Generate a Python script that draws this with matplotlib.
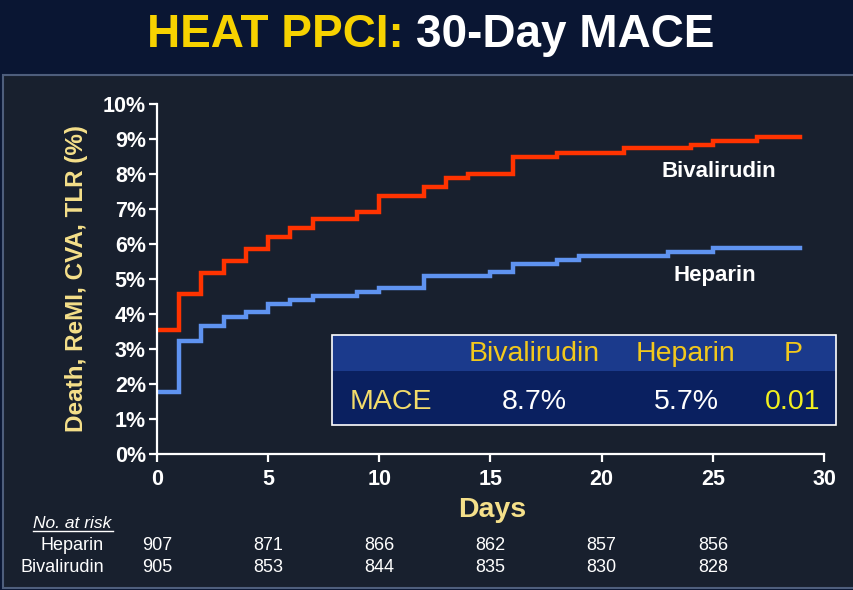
import matplotlib
matplotlib.use("Agg")
import matplotlib.pyplot as plt
from matplotlib.patches import Rectangle
from matplotlib.transforms import blended_transform_factory

plt.rcParams["font.family"] = ["Liberation Sans", "DejaVu Sans"]

# step curves (day, % MACE)
biv_days = [0, 1, 2, 3, 4, 5, 6, 7, 9, 10, 12, 13, 14, 16, 18, 21, 24, 25, 27, 28.9]
biv_pct = [3.55, 4.57, 5.17, 5.51, 5.86, 6.2, 6.46, 6.71, 6.91, 7.37, 7.63, 7.89, 8.0,
           8.49, 8.6, 8.74, 8.83, 8.94, 9.07, 9.07]
hep_days = [0, 1, 2, 3, 4, 5, 6, 7, 9, 10, 12, 15, 16, 18, 19, 23, 25, 28.9]
hep_pct = [1.78, 3.23, 3.66, 3.91, 4.06, 4.29, 4.4, 4.51, 4.63, 4.74, 5.09, 5.2, 5.44,
           5.54, 5.66, 5.78, 5.88, 5.88]

risk_days = [0, 5, 10, 15, 20, 25]
risk_hep = [907, 871, 866, 862, 857, 856]
risk_biv = [905, 853, 844, 835, 830, 828]

table_cols = ["Bivalirudin", "Heparin", "P"]
table_vals = ["8.7%", "5.7%", "0.01"]

W, H = 854, 590
fig = plt.figure(figsize=(W / 100, H / 100), dpi=100, facecolor="#0a1633")

def fx(px):
    return px / W

def fy(py):
    return 1 - py / H

# dark panel behind the chart
fig.patches.append(Rectangle((fx(3), fy(588)), fx(860) - fx(3), fy(75) - fy(588),
                             transform=fig.transFigure, facecolor="#18202e",
                             edgecolor="#4e5e7c", lw=1.5, zorder=-5))

# title in two colours
fig.text(fx(404), fy(47), "HEAT PPCI:", color="#f7d200", fontsize=33, fontweight="bold",
         ha="right", va="baseline")
fig.text(fx(416), fy(47), "30-Day MACE", color="white", fontsize=33, fontweight="bold",
         ha="left", va="baseline")

ax = fig.add_axes([fx(157), fy(454), fx(824) - fx(157), fy(104) - fy(454)])
ax.set_facecolor("none")
ax.step(biv_days, biv_pct, where="post", color="#ff3300", lw=3.2, solid_joinstyle="miter")
ax.step(hep_days, hep_pct, where="post", color="#5f93f0", lw=3.2, solid_joinstyle="miter")

ax.set_xlim(0, 30)
ax.set_ylim(0, 10)
ax.set_xticks(range(0, 31, 5))
ax.set_yticks(range(0, 11))
ax.set_yticklabels([f"{v}%" for v in range(0, 11)])
for s in ["top", "right"]:
    ax.spines[s].set_visible(False)
for s in ["left", "bottom"]:
    ax.spines[s].set_color("white")
    ax.spines[s].set_linewidth(1.6)
ax.tick_params(colors="white", width=1.6, length=6, labelsize=15.5)
ax.tick_params(axis="y", pad=2)
ax.tick_params(axis="x", pad=5)
for lab in ax.get_xticklabels() + ax.get_yticklabels():
    lab.set_fontweight("bold")

ax.text(25.25, 8.06, "Bivalirudin", color="white", fontsize=16, fontweight="bold",
        ha="center", va="center")
ax.text(25.1, 5.09, "Heparin", color="white", fontsize=16, fontweight="bold",
        ha="center", va="center")

fig.text(fx(77), fy(279), "Death, ReMI, CVA, TLR (%)", color="#f5e08a", fontsize=17.5,
         fontweight="bold", rotation=90, ha="center", va="center")
fig.text(fx(492), fy(510), "Days", color="#f5e08a", fontsize=20.5, fontweight="bold",
         ha="center", va="center")

# MACE summary table
fig.patches.append(Rectangle((fx(332), fy(425)), fx(836) - fx(332), fy(371) - fy(425),
                             transform=fig.transFigure, facecolor="#0a2060",
                             edgecolor="none", zorder=2))
fig.patches.append(Rectangle((fx(332), fy(371)), fx(836) - fx(332), fy(335) - fy(371),
                             transform=fig.transFigure, facecolor="#1b3a8c",
                             edgecolor="none", zorder=2))
fig.patches.append(Rectangle((fx(332), fy(425)), fx(836) - fx(332), fy(335) - fy(425),
                             transform=fig.transFigure, facecolor="none",
                             edgecolor="white", lw=1.2, zorder=3))
col_x = [534, 686, 793]
for x, c in zip(col_x, table_cols):
    fig.text(fx(x), fy(354), c, color="#f2c81c", fontsize=20.5, ha="center", va="center")
fig.text(fx(391), fy(402), "MACE", color="#f3dc6a", fontsize=20.5, ha="center", va="center")
val_colors = ["white", "white", "#f2f01e"]
for x, v, c in zip(col_x, table_vals, val_colors):
    fig.text(fx(x), fy(402), v, color=c, fontsize=20.5, ha="center", va="center")

# number at risk
fig.text(fx(33), fy(523), "No. at risk", color="white", fontsize=12.5, style="italic",
         ha="left", va="center")
fig.add_artist(plt.Line2D([fx(33), fx(113)], [fy(531), fy(531)], color="white", lw=1))
fig.text(fx(104), fy(546), "Heparin", color="white", fontsize=13, ha="right", va="center")
fig.text(fx(104), fy(567), "Bivalirudin", color="white", fontsize=13, ha="right", va="center")
trans = blended_transform_factory(ax.transData, fig.transFigure)
for d, h, b in zip(risk_days, risk_hep, risk_biv):
    ax.text(d, fy(546), str(h), color="white", fontsize=13, ha="center", va="center",
            transform=trans, clip_on=False)
    ax.text(d, fy(567), str(b), color="white", fontsize=13, ha="center", va="center",
            transform=trans, clip_on=False)

fig.savefig("out.png", dpi=100, facecolor=fig.get_facecolor())
